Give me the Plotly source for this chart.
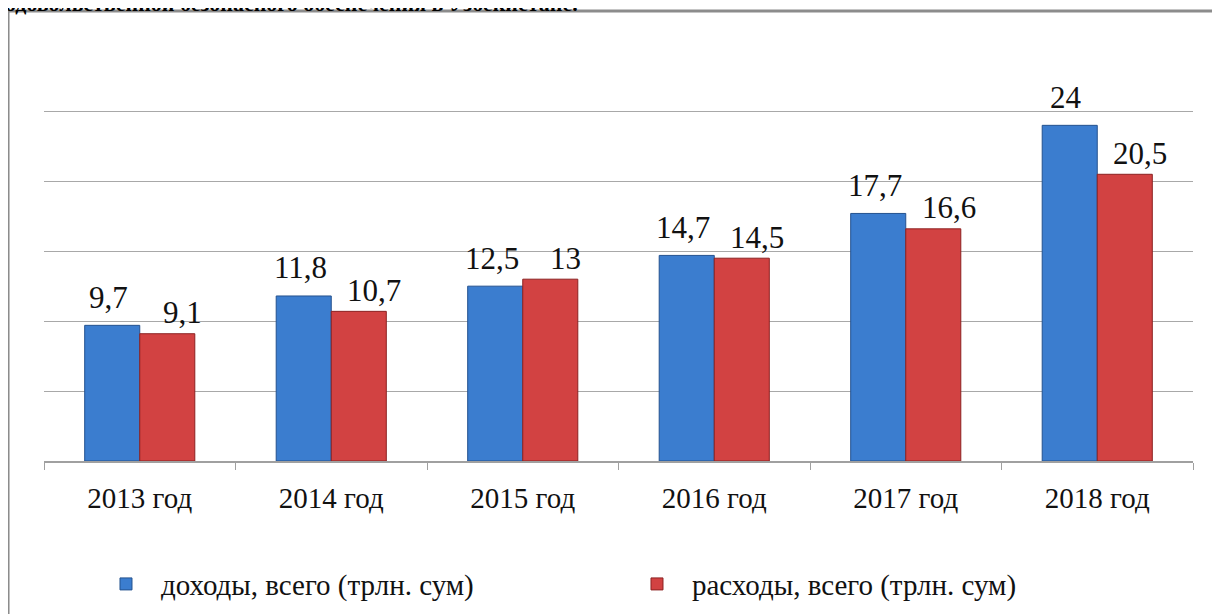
import plotly.graph_objects as go

categories = ["2013 год", "2014 год", "2015 год", "2016 год", "2017 год", "2018 год"]
income = [9.7, 11.8, 12.5, 14.7, 17.7, 24]
expense = [9.1, 10.7, 13, 14.5, 16.6, 20.5]
income_name = "доходы, всего (трлн. сум)"
expense_name = "расходы, всего (трлн. сум)"
title_text = "продовольственной безопасного обеспечения в Узбекистане."


def fmt(v):
    return f"{v:g}".replace(".", ",")


FONT = "Liberation Serif, Times New Roman, serif"

fig = go.Figure()
fig.add_trace(go.Bar(
    x=categories, y=income, name=income_name,
    marker=dict(color="#3b7dcf", line=dict(color="#24528f", width=1)),
))
fig.add_trace(go.Bar(
    x=categories, y=expense, name=expense_name,
    marker=dict(color="#d24242", line=dict(color="#8c2222", width=1)),
))

annotations = []
for c, v in zip(categories, income):
    annotations.append(dict(x=c, y=v, xref="x", yref="y", text=fmt(v), showarrow=False,
                            xanchor="center", yanchor="middle", xshift=-31, yshift=28,
                            font=dict(family=FONT, size=31, color="#111")))
for c, v in zip(categories, expense):
    annotations.append(dict(x=c, y=v, xref="x", yref="y", text=fmt(v), showarrow=False,
                            xanchor="center", yanchor="middle", xshift=43, yshift=21,
                            font=dict(family=FONT, size=31, color="#111")))
annotations.append(dict(x=0.4665, y=1.089, xref="paper", yref="paper", text="<b>" + title_text + "</b>",
                        showarrow=False, xanchor="right", yanchor="middle",
                        font=dict(family=FONT, size=22, color="#000")))

fig.update_layout(
    width=1212, height=606,
    margin=dict(l=36, r=27, t=33, b=153, autoexpand=False),
    paper_bgcolor="white", plot_bgcolor="white",
    barmode="group", bargap=0.425, bargroupgap=0,
    font=dict(family=FONT, size=29, color="#111"),
    showlegend=True,
    legend=dict(orientation="h", x=0.0409, xanchor="left", y=-0.293, yanchor="middle",
                entrywidth=456, entrywidthmode="pixels", itemwidth=60,
                font=dict(family=FONT, size=29, color="#111")),
    annotations=annotations,
    shapes=[dict(type="rect", xref="paper", yref="paper", x0=-0.0313, y0=-0.6, x1=1.2, y1=1.0714,
                 line=dict(color="#8c8c8c", width=3), fillcolor="rgba(0,0,0,0)", layer="below")],
)
fig.update_xaxes(showline=True, linecolor="#a0a0a0", linewidth=1.5,
                 ticks="outside", tickson="boundaries", ticklen=7, tickcolor="#a0a0a0",
                 ticklabelstandoff=10, showgrid=False,
                 tickfont=dict(family=FONT, size=29, color="#111"))
fig.update_yaxes(range=[0, 30.03], dtick=5, showticklabels=False, showgrid=True,
                 gridcolor="#a8a8a8", gridwidth=1, zeroline=False, showline=False)

fig.write_html("out.html")
